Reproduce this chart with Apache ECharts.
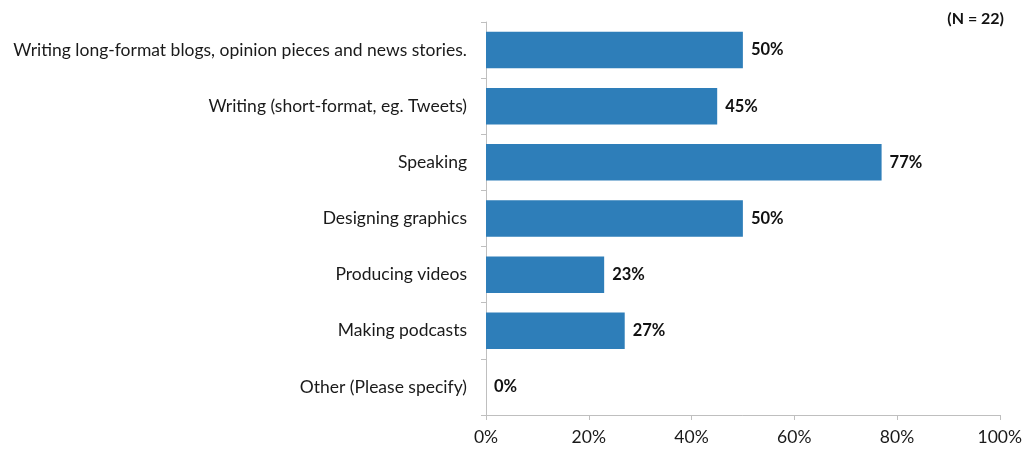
<!DOCTYPE html>
<html>
<head>
<meta charset="utf-8">
<script src="https://cdn.jsdelivr.net/npm/echarts@6/dist/echarts.min.js"></script>
<style>
  html, body { margin: 0; padding: 0; background: #fff; }
  #chart { width: 1025px; height: 450px; }
</style>
</head>
<body>
<div id="chart"></div>
<script>
// Content types, top to bottom
const categories = [
  'Writing long-format blogs, opinion pieces and news stories.',
  'Writing (short-format, eg. Tweets)',
  'Speaking',
  'Designing graphics',
  'Producing videos',
  'Making podcasts',
  'Other (Please specify)'
];
// Share of respondents (%)
const shares = [50, 45, 77, 50, 23, 27, 0];
const xTicks = [0, 20, 40, 60, 80, 100];
const sampleNote = '(N = 22)';

const FONT = 'Lato, "Open Sans", sans-serif';
const chart = echarts.init(document.getElementById('chart'), null, { renderer: 'canvas' });
chart.setOption({
  animation: false,
  textStyle: { fontFamily: FONT },
  title: {
    text: sampleNote,
    right: 16, top: 6,
    textStyle: { fontFamily: FONT, fontSize: 16, fontWeight: 'bold', color: '#111' }
  },
  grid: { left: 486, right: 25, top: 22, bottom: 35, containLabel: false },
  xAxis: {
    type: 'value', min: 0, max: 100, interval: 20,
    axisLine: { show: true, lineStyle: { color: '#BFBFBF', width: 1 } },
    axisTick: { show: true, length: 5, lineStyle: { color: '#BFBFBF' } },
    splitLine: { show: false },
    axisLabel: {
      color: '#1a1a1a', fontSize: 17.5, fontFamily: FONT, margin: 13,
      formatter: v => xTicks.includes(v) ? v + '%' : ''
    }
  },
  yAxis: {
    type: 'category', data: categories, inverse: true,
    axisLine: { show: true, lineStyle: { color: '#BFBFBF', width: 1 } },
    axisTick: { show: true, length: 5, alignWithLabel: false, lineStyle: { color: '#BFBFBF' } },
    axisLabel: { color: '#1a1a1a', fontSize: 17.5, fontFamily: FONT, margin: 19 }
  },
  series: [{
    type: 'bar',
    data: shares,
    barCategoryGap: '35%',
    itemStyle: { color: '#2E7EB9' },
    label: {
      show: true, position: 'right', distance: 8,
      formatter: p => p.value + '%',
      fontFamily: FONT, fontSize: 16.5, fontWeight: 'bold', color: '#111'
    }
  }]
});
</script>
</body>
</html>
